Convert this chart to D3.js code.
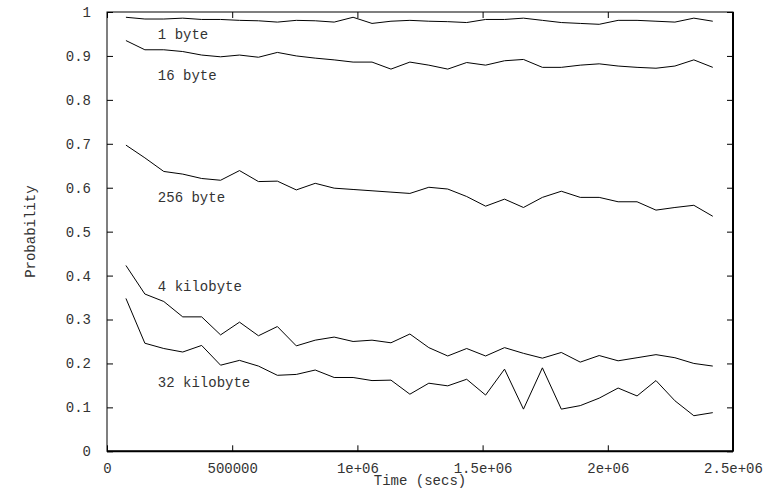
<!DOCTYPE html>
<html>
<head>
<meta charset="utf-8">
<script src="https://cdn.jsdelivr.net/npm/d3@7"></script>
<style>
  body { margin: 0; background: #fff; }
  text { font-family: "Liberation Mono", "DejaVu Sans Mono", monospace; font-size: 14px; fill: #333; }
</style>
</head>
<body>
<div id="chart"></div>
<script>
// sample times (secs)
const times = [75600, 151200, 226800, 302400, 378000, 453600, 529200, 604800,
  680400, 756000, 831600, 907200, 982800, 1058400, 1134000, 1209600,
  1285200, 1360800, 1436400, 1512000, 1587600, 1663200, 1738800, 1814400,
  1890000, 1965600, 2041200, 2116800, 2192400, 2268000, 2343600, 2419200];

const oneByte = [0.988, 0.984, 0.984, 0.986, 0.983, 0.983, 0.981, 0.980, 0.977, 0.981, 0.980, 0.977,
  0.988, 0.974, 0.979, 0.981, 0.979, 0.978, 0.976, 0.983, 0.983, 0.986, 0.981, 0.976,
  0.974, 0.972, 0.981, 0.981, 0.979, 0.977, 0.986, 0.979];
const sixteenByte = [0.935, 0.914, 0.914, 0.910, 0.902, 0.898, 0.902, 0.897, 0.908, 0.900, 0.895, 0.891,
  0.886, 0.886, 0.870, 0.886, 0.879, 0.870, 0.885, 0.879, 0.889, 0.892, 0.874, 0.874,
  0.879, 0.882, 0.877, 0.874, 0.872, 0.877, 0.891, 0.874];
const byte256 = [0.697, 0.668, 0.637, 0.631, 0.621, 0.617, 0.639, 0.614, 0.615, 0.595, 0.610, 0.599,
  0.596, 0.593, 0.590, 0.587, 0.601, 0.597, 0.580, 0.558, 0.574, 0.555, 0.578, 0.592,
  0.578, 0.578, 0.568, 0.568, 0.549, 0.555, 0.560, 0.535];
const kilo4 = [0.423, 0.358, 0.341, 0.306, 0.306, 0.265, 0.294, 0.263, 0.284, 0.240, 0.253, 0.260,
  0.250, 0.253, 0.247, 0.267, 0.236, 0.217, 0.234, 0.217, 0.236, 0.223, 0.212, 0.225,
  0.203, 0.218, 0.206, 0.213, 0.220, 0.213, 0.200, 0.194];
const kilo32 = [0.348, 0.246, 0.234, 0.226, 0.241, 0.196, 0.207, 0.194, 0.173, 0.175, 0.185, 0.168,
  0.168, 0.161, 0.162, 0.130, 0.155, 0.149, 0.164, 0.128, 0.187, 0.096, 0.190, 0.096,
  0.104, 0.121, 0.144, 0.126, 0.161, 0.115, 0.081, 0.088];

const seriesNames = ["1 byte", "16 byte", "256 byte", "4 kilobyte", "32 kilobyte"];
const seriesValues = [oneByte, sixteenByte, byte256, kilo4, kilo32];

const xTicks = [0, 500000, 1000000, 1500000, 2000000, 2500000];
const xTickLabels = ["0", "500000", "1e+06", "1.5e+06", "2e+06", "2.5e+06"];
const yTicks = [0, 0.1, 0.2, 0.3, 0.4, 0.5, 0.6, 0.7, 0.8, 0.9, 1];
const yTickLabels = ["0", "0.1", "0.2", "0.3", "0.4", "0.5", "0.6", "0.7", "0.8", "0.9", "1"];

const width = 763, height = 489;
const plotLeft = 107, plotRight = 733, plotTop = 12, plotBottom = 451.3;

const svg = d3.select("#chart").append("svg")
  .attr("width", width)
  .attr("height", height);

const x = d3.scaleLinear().domain([0, 2500000]).range([plotLeft, plotRight]);
const y = d3.scaleLinear().domain([0, 1]).range([plotBottom, plotTop]);

// ticks, gnuplot style (inward on all four sides)
const tickLen = 6;
const axisBottom = svg.append("g").attr("transform", `translate(0,${plotBottom})`)
  .call(d3.axisBottom(x).tickValues(xTicks).tickSizeInner(-tickLen).tickSizeOuter(0).tickPadding(12)
    .tickFormat((d, i) => xTickLabels[i]));
const axisTop = svg.append("g").attr("transform", `translate(0,${plotTop})`)
  .call(d3.axisTop(x).tickValues(xTicks).tickSizeInner(-tickLen).tickSizeOuter(0).tickFormat(""));
const axisLeft = svg.append("g").attr("transform", `translate(${plotLeft},0)`)
  .call(d3.axisLeft(y).tickValues(yTicks).tickSizeInner(-tickLen).tickSizeOuter(0).tickPadding(16)
    .tickFormat((d, i) => yTickLabels[i]));
const axisRight = svg.append("g").attr("transform", `translate(${plotRight},0)`)
  .call(d3.axisRight(y).tickValues(yTicks).tickSizeInner(-tickLen).tickSizeOuter(0).tickFormat(""));

[axisBottom, axisTop, axisLeft, axisRight].forEach(g => {
  g.select(".domain").remove();
  g.selectAll(".tick line").attr("stroke", "#000");
  g.selectAll("text").attr("font-size", null).attr("font-family", null).attr("fill", null);
});
axisBottom.selectAll("text").attr("dy", "0.35em").attr("y", 17);

// frame
svg.append("rect")
  .attr("x", plotLeft).attr("y", plotTop)
  .attr("width", plotRight - plotLeft).attr("height", plotBottom - plotTop)
  .attr("fill", "none").attr("stroke", "#000").attr("stroke-width", 1);
svg.append("line").attr("x1", plotRight).attr("x2", plotRight).attr("y1", plotTop).attr("y2", plotBottom)
  .attr("stroke", "#000").attr("stroke-width", 2);
svg.append("line").attr("x1", plotLeft).attr("x2", plotRight).attr("y1", plotBottom).attr("y2", plotBottom)
  .attr("stroke", "#000").attr("stroke-width", 2);

// lines
const line = d3.line()
  .x((d, i) => x(times[i]))
  .y(d => y(d));

svg.selectAll("path.series")
  .data(seriesValues)
  .enter()
  .append("path")
  .attr("class", "series")
  .attr("d", line)
  .attr("fill", "none")
  .attr("stroke", "#000")
  .attr("stroke-width", 1);

// series labels, placed in data coordinates
const labelPos = [[203000, 0.950], [203000, 0.857], [203000, 0.579], [203000, 0.377], [203000, 0.158]];
svg.selectAll("text.label")
  .data(seriesNames)
  .enter()
  .append("text")
  .attr("class", "label")
  .attr("x", (d, i) => x(labelPos[i][0]))
  .attr("y", (d, i) => y(labelPos[i][1]))
  .attr("dy", "0.35em")
  .text(d => d);

// axis titles
svg.append("text")
  .attr("x", (plotLeft + plotRight) / 2)
  .attr("y", 480.5)
  .attr("dy", "0.3em")
  .attr("text-anchor", "middle")
  .text("Time (secs)");

svg.append("text")
  .attr("transform", `translate(30,${(plotTop + plotBottom) / 2}) rotate(-90)`)
  .attr("dy", "0.35em")
  .attr("text-anchor", "middle")
  .text("Probability");
</script>
</body>
</html>
